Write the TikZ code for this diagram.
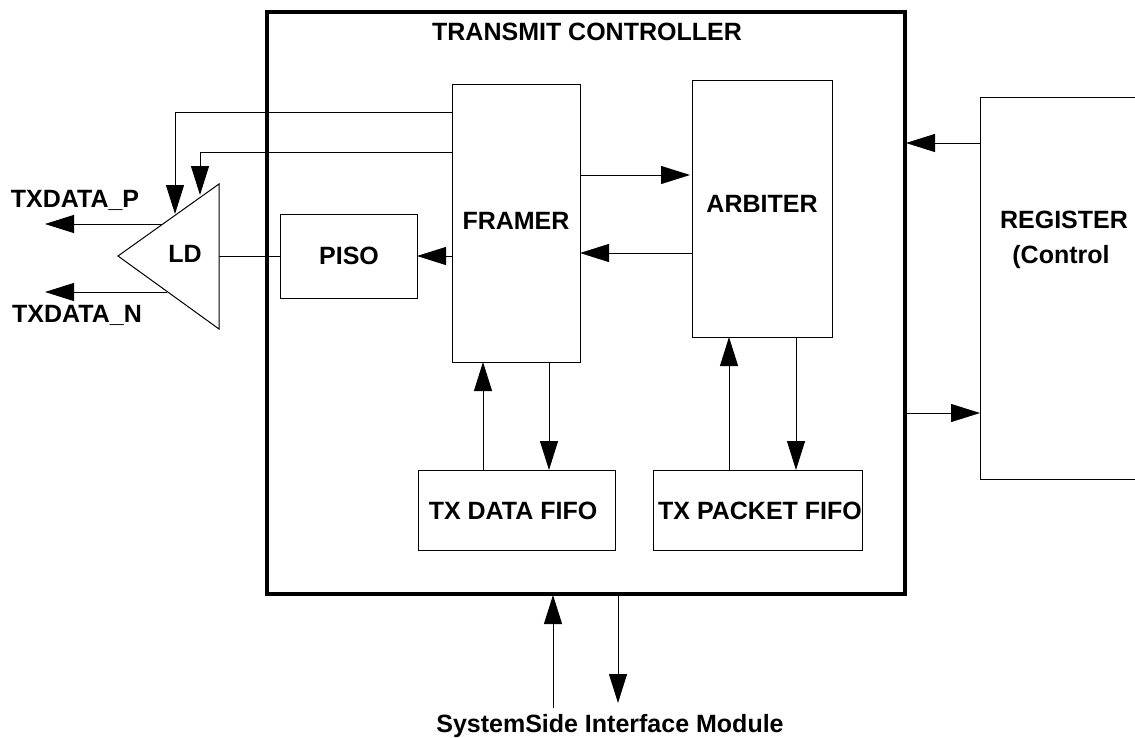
\documentclass[tikz,border=0pt]{standalone}
\usepackage{fontspec}
\setmainfont{Liberation Sans}
\usetikzlibrary{arrows.meta}
\tikzset{
 box/.style={draw=black,line width=1pt,fill=white,minimum width=#1,inner sep=0pt,outer sep=0pt},
 lbl/.style={font=\fontsize{25}{29}\selectfont\bfseries,inner sep=0pt,anchor=center,align=center},
 conn/.style={draw=black,line width=1pt,-{Triangle[length=29pt,width=18pt]}},
 wire/.style={draw=black,line width=1pt},
}
\begin{document}
\begin{tikzpicture}[x=1pt,y=-1pt]
\useasboundingbox (0,0) rectangle (1135,737);
% register (open at the right edge)
\coordinate (regTR) at (1135,97);
\coordinate (regTL) at (980,97);
\coordinate (regBL) at (980,479);
\coordinate (regBR) at (1135,479);
\draw[wire] (regTR) -- (regTL) -- (regBL) -- (regBR);
\node[lbl] (reglbl) at (1064,220) {REGISTER};
\node[lbl] (regctl) at (1061,257) {(Control};
% main
\node[draw=black,line width=4pt,minimum width=638pt,minimum height=582pt,inner sep=0pt] (main) at (586,303) {};
\node[lbl] (maintitle) at (587,32) {TRANSMIT CONTROLLER};
% blocks
\node[box=128pt,minimum height=278pt] (framer) at (516,223) {};
\node[lbl] (framerlbl) at (516,221) {FRAMER};
\node[box=140pt,minimum height=257pt] (arbiter) at (762,208.5) {};
\node[lbl] (arbiterlbl) at (762,204) {ARBITER};
\node[box=137pt,minimum height=84pt] (piso) at (348.5,256) {};
\node[lbl] (pisolbl) at (349,256) {PISO};
\node[box=197pt,minimum height=80pt] (datafifo) at (516.5,510) {};
\node[lbl] (datalbl) at (513,511) {TX DATA FIFO};
\node[box=209pt,minimum height=80pt] (pktfifo) at (757.5,510) {};
\node[lbl] (pktlbl) at (760,511) {TX PACKET FIFO};
% driver
\coordinate (ldtip) at (118,256);
\coordinate (ldtop) at (219,184);
\coordinate (ldbot) at (219,329);
\draw[wire,fill=white,line join=miter] (ldtip) -- (ldtop) -- (ldbot) -- cycle;
\node[lbl] (ldlbl) at (185,254) {LD};
% free ends
\coordinate (pout) at (45,224);
\coordinate (pin) at (162,224);
\coordinate (nout) at (45,292);
\coordinate (nin) at (167,292);
\coordinate (ctlA) at (175,214);
\coordinate (ctlB) at (200,195);
\coordinate (sysin) at (553,708);
\coordinate (sysout) at (618,703);
% connectors
\draw[conn] (framer.west |- 0,112) -| (ctlA);
\draw[conn] (framer.west |- 0,152) -| (ctlB);
\draw[conn] (pin) -- (pout);
\draw[conn] (nin) -- (nout);
\draw[wire] (219,256) -- (piso.west);
\draw[conn] (framer.west |- piso.east) -- (piso.east);
\draw[conn] (framer.east |- 0,175) -- (690,175);
\draw[conn] (arbiter.west |- 0,253) -- (framer.east |- 0,253);
\draw[conn] (datafifo.north -| 483,0) -- (framer.south -| 483,0);
\draw[conn] (framer.south -| 549,0) -- (datafifo.north -| 549,0);
\draw[conn] (pktfifo.north -| 729,0) -- (arbiter.south -| 729,0);
\draw[conn] (arbiter.south -| 796,0) -- (pktfifo.north -| 796,0);
\draw[conn] (regTL |- 0,143) -- (906,143);
\draw[conn] (906,413) -- (regTL |- 0,413);
\draw[conn] (sysin) -- (553,595);
\draw[conn] (618,596) -- (sysout);
% outer labels
\node[lbl] (plbl) at (75,200) {TXDATA\_P};
\node[lbl] (nlbl) at (77,315) {TXDATA\_N};
\node[lbl] (syslbl) at (610,726) {SystemSide Interface Module};
\end{tikzpicture}
\end{document}
